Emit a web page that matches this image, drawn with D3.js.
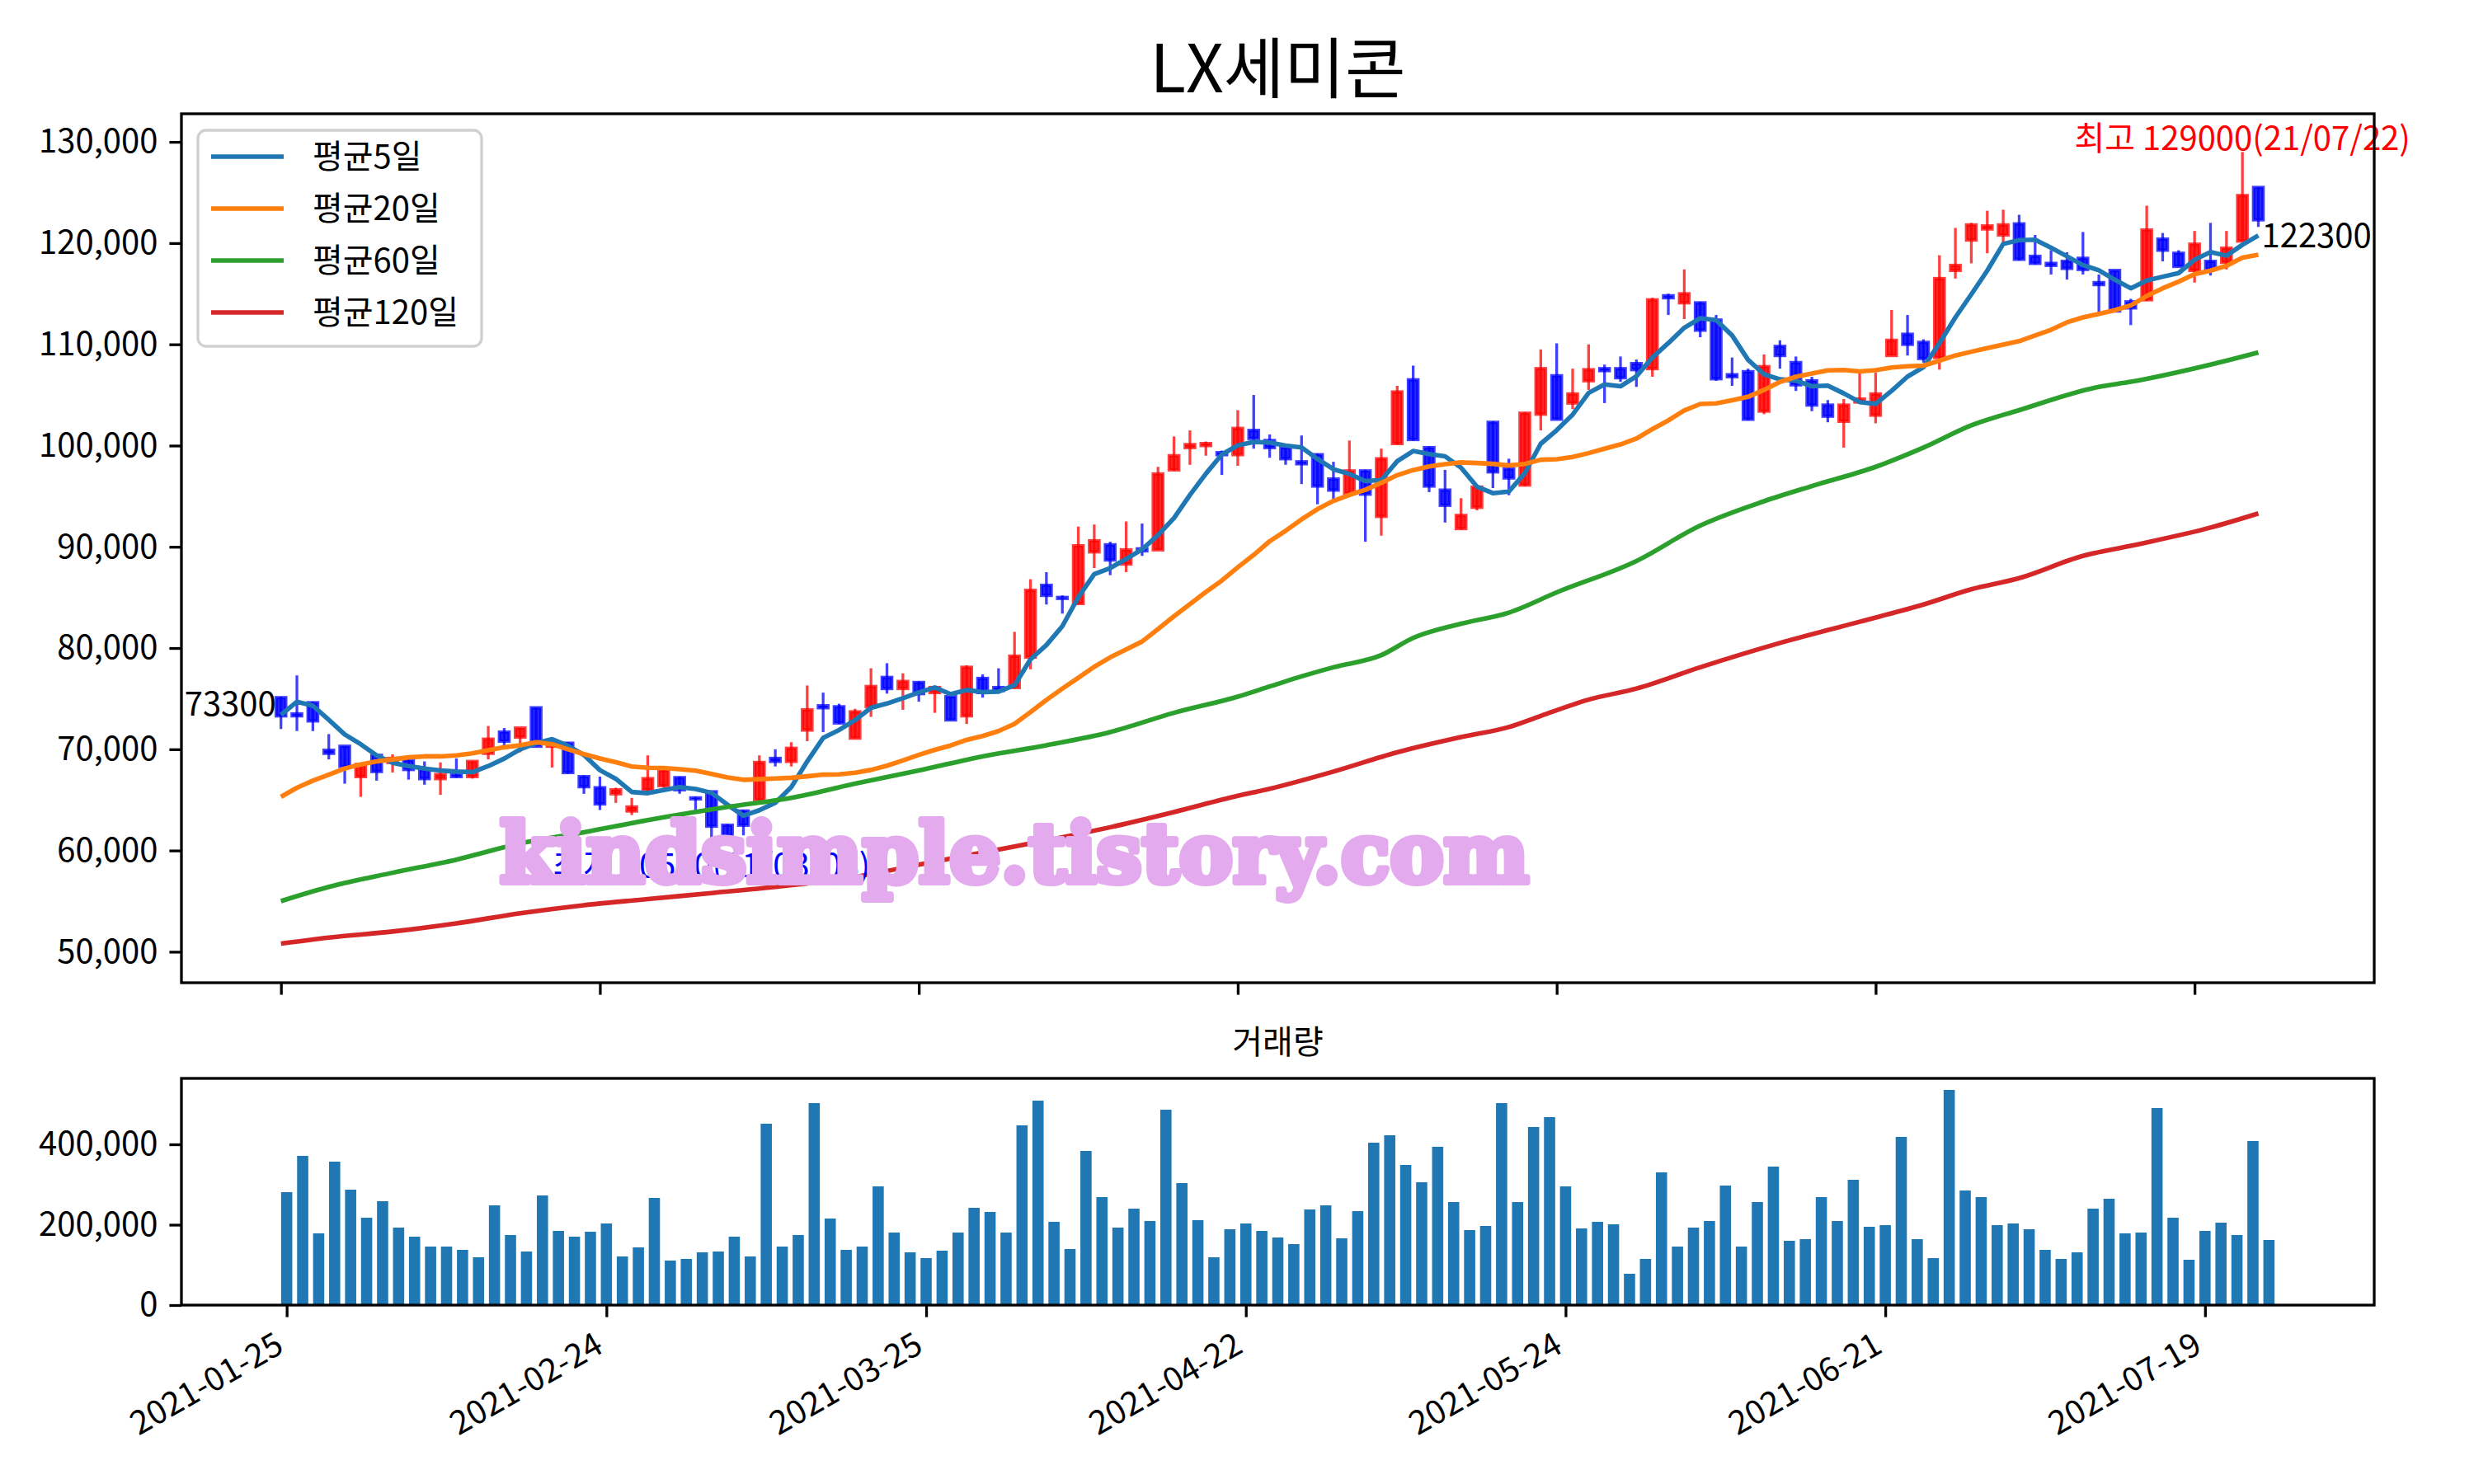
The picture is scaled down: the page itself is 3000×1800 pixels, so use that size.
<!DOCTYPE html>
<html><head><meta charset="utf-8">
<script src="https://cdn.jsdelivr.net/npm/d3@7"></script>
<style>body{margin:0;background:#fff}svg{display:block}</style>
</head><body><svg id="c" width="3000" height="1800" font-family='"Noto Sans CJK KR","Noto Sans",sans-serif'></svg>
<script>
const title = "LX세미콘";
const dates = ["2021-01-25","2021-01-26","2021-01-27","2021-01-28","2021-01-29",
"2021-02-01","2021-02-02","2021-02-03","2021-02-04","2021-02-05","2021-02-08","2021-02-09","2021-02-10",
"2021-02-15","2021-02-16","2021-02-17","2021-02-18","2021-02-19","2021-02-22","2021-02-23","2021-02-24","2021-02-25","2021-02-26",
"2021-03-02","2021-03-03","2021-03-04","2021-03-05","2021-03-08","2021-03-09","2021-03-10","2021-03-11","2021-03-12",
"2021-03-15","2021-03-16","2021-03-17","2021-03-18","2021-03-19","2021-03-22","2021-03-23","2021-03-24","2021-03-25","2021-03-26",
"2021-03-29","2021-03-30","2021-03-31","2021-04-01","2021-04-02","2021-04-05","2021-04-06","2021-04-07","2021-04-08","2021-04-09",
"2021-04-12","2021-04-13","2021-04-14","2021-04-15","2021-04-16","2021-04-19","2021-04-20","2021-04-21","2021-04-22","2021-04-23",
"2021-04-26","2021-04-27","2021-04-28","2021-04-29","2021-04-30","2021-05-03","2021-05-04","2021-05-06","2021-05-07",
"2021-05-10","2021-05-11","2021-05-12","2021-05-13","2021-05-14","2021-05-17","2021-05-18","2021-05-20","2021-05-21",
"2021-05-24","2021-05-25","2021-05-26","2021-05-27","2021-05-28","2021-05-31","2021-06-01","2021-06-02","2021-06-03","2021-06-04",
"2021-06-07","2021-06-08","2021-06-09","2021-06-10","2021-06-11","2021-06-14","2021-06-15","2021-06-16","2021-06-17","2021-06-18",
"2021-06-21","2021-06-22","2021-06-23","2021-06-24","2021-06-25","2021-06-28","2021-06-29","2021-06-30","2021-07-01","2021-07-02",
"2021-07-05","2021-07-06","2021-07-07","2021-07-08","2021-07-09","2021-07-12","2021-07-13","2021-07-14","2021-07-15","2021-07-16",
"2021-07-19","2021-07-20","2021-07-21","2021-07-22","2021-07-23"];
const opens = [75100,73500,74600,69900,70300,67300,69400,68700,68900,68000,67100,67500,67300,69600,71700,71200,74100,70300,70600,67300,
66200,65600,63900,66000,66400,67200,65200,65800,62500,63900,65000,69100,68800,71900,74300,74200,71100,74200,77100,76000,
76600,75600,75200,73300,77000,76100,76100,79100,86200,85000,84400,89500,90200,88300,89800,89700,97600,99800,100000,99300,
99100,101500,100500,99800,98400,99100,96700,95300,97500,93000,100200,106500,99800,95600,91800,93900,102300,97700,96100,103100,
106900,104200,106400,107600,107600,108100,107600,114800,114100,114100,112400,107000,107300,103400,109800,108200,106400,104000,102400,104300,
103000,108900,111000,110200,108700,117300,120300,121400,120800,121900,118700,118000,118200,118500,116100,117300,114200,114400,120400,119000,
117300,118200,118100,120200,125500];
const highs = [75200,77300,74700,71500,70300,68600,69500,69500,69000,68800,68700,69100,68800,72300,72100,72100,74100,70900,70700,67400,
67300,66200,65200,69400,68000,67300,65300,65900,62600,64000,69400,70000,70700,76300,75600,74500,74000,78000,78500,77500,
76700,76200,75300,78300,77400,78000,81600,86800,87500,85200,92000,92200,90500,92500,92300,97900,100900,101500,100400,99500,
103500,105000,101100,99900,101000,99200,98400,100500,97600,99700,105900,107900,99900,97600,94800,96000,102400,98700,103300,109500,
110100,107600,110000,108000,108800,108500,114600,115000,117400,114200,112900,108700,107600,109000,110400,108800,106800,104500,104600,107300,
107200,113400,112900,110500,118800,121500,122000,123200,123300,122800,120800,119300,119100,121100,116900,117300,114500,123700,121000,119300,
121200,122000,121200,129000,125500];
const lows = [72000,71800,71800,69000,66600,65300,66900,67700,67000,66500,65500,67200,67100,69000,70300,69700,70300,68200,67600,65600,
64000,64700,63500,65800,66200,65600,63700,60500,60900,61500,64900,68300,68300,70800,71700,72500,71100,73200,75500,73900,
74700,73600,72900,72500,75100,75600,76000,77900,84300,83400,84300,87900,87200,87500,89100,89700,97500,98100,99000,97100,
98000,99700,98800,98100,96200,94200,94700,95200,90500,91100,100100,100500,95400,92400,91700,93600,95800,95100,96000,101500,
102600,103600,105500,104200,106300,105800,106800,112900,112500,110700,106400,105900,102500,103100,107600,105400,103400,102300,99800,104200,
102200,108900,108900,108200,107500,116500,118000,119000,120000,118300,117900,116900,116400,116900,113200,113200,111900,114300,118200,117700,
116100,116800,117400,120200,121600];
const closes = [73300,73300,72800,69600,68300,68500,67800,69100,68000,67100,67500,67300,68800,71000,70800,72100,70300,70800,67700,66300,
64600,66000,64300,67100,67900,66000,65100,62400,61200,62500,68700,68800,70100,73900,74100,72600,73700,76200,76000,76700,
75500,76100,72900,78100,75600,75800,79200,85700,85200,84900,90100,90600,88700,89700,89600,97200,99000,100100,100200,99100,
101700,100700,99800,98700,98200,96000,95600,97500,95200,98700,105300,100600,96000,94100,93100,95900,97400,96800,103200,107600,
102600,105100,107500,107400,106700,107500,114400,114600,115000,111400,106600,106800,102600,107800,108900,106000,104000,102900,104000,104600,
105100,110400,110000,108600,116500,117800,121800,121700,121800,118400,118000,117800,117500,117400,115900,113300,113600,121300,119300,117700,
119900,117400,119500,124700,122300];
const volumes = [281000,371300,178500,356900,287200,217400,258500,192800,170300,145600,145600,137400,119000,248200,174400,133300,272800,184600,170300,182600,
203100,121000,143600,266700,110800,114900,131300,133300,170300,121000,451300,145600,174400,502600,215400,137400,145600,295400,180500,131300,
116900,135400,180500,242100,231800,180500,447200,508700,207200,139500,383600,268700,192800,240000,209200,486200,303600,211300,119000,188700,
203100,184600,168200,151800,237900,248200,166200,233800,404100,422600,348700,305600,393900,256400,186700,196900,502600,256400,443100,467700,
295400,190800,207200,201000,77900,114900,330300,145600,192800,209200,297400,145600,256400,344600,160000,164100,268700,209200,311800,194900,
199000,418500,164100,116900,535400,285100,268700,199000,203100,188700,137400,114900,131300,240000,264600,178500,180500,490300,217400,112800,
184600,205100,174400,408200,162100];
const ma5 = [73400,74700,74300,72900,71460,70500,69400,68660,68340,68100,67900,67800,67740,68340,69080,70000,70600,71000,70340,69440,
67940,67080,65780,65660,65980,66260,66080,65700,64520,63440,63980,64720,66260,68800,71120,71900,72880,74100,74520,75040,
75620,76100,75440,75860,75640,75700,76320,78880,80300,82160,85020,87300,87900,88800,89740,91160,92840,95120,97220,99120,
100020,100360,100300,100000,99820,98680,97660,97200,96500,96600,98460,99460,99160,98940,97820,95940,95300,95460,97280,100180,
101520,103060,105200,106040,105860,106840,108700,110120,111640,112580,112400,110880,108480,107040,106540,106420,105860,105920,105160,104300,
104120,105400,106820,107740,110120,112660,114940,117280,119920,120300,120340,119540,118700,117820,117320,116380,115540,116300,116680,117040,
118360,119120,118760,119840,120760];
const ma20 = [65300,66200,66900,67500,68100,68500,68800,69000,69200,69300,69300,69400,69600,69900,70200,70400,70700,70500,70000,69520,
69085,68720,68295,68170,68150,68025,67890,67555,67215,66985,67045,67120,67185,67330,67495,67520,67690,67960,68375,68895,
69440,69945,70375,70925,71310,71800,72505,73670,74870,75990,77060,78150,79080,79870,80645,81875,83140,84335,85545,86665,
87975,89205,90550,91580,92710,93720,94540,95130,95630,96320,97080,97580,97945,98165,98340,98275,98195,98030,98180,98605,
98650,98870,99255,99690,100115,100690,101630,102485,103475,104110,104175,104485,104815,105500,106290,106795,107125,107430,107470,107320,
107445,107710,107835,107895,108385,108900,109270,109625,109965,110315,110885,111435,112180,112660,113010,113375,113855,114775,115540,116195,
116935,117285,117760,118565,118855];
const ma60Idx = [0,3,7,11,15,19,23,28,32,36,40,44,48,52,56,60,62,64,66,69,71,74,77,80,85,89,93,96,100,103,106,109,114,116,121,124];
const ma60Val = [55000,56400,57800,59100,60700,61800,63000,64300,65200,66600,67900,69300,70400,71700,73600,75200,76200,77200,78100,79300,81000,82400,83500,85500,88600,92100,94500,96000,97900,99800,102000,103500,105800,106300,108000,109200];
const ma120Idx = [0,3,7,11,15,19,23,27,31,36,40,44,48,52,56,60,62,66,70,74,77,79,82,85,89,94,99,103,106,109,113,116,121,124];
const ma120Val = [50800,51400,52000,52800,53800,54600,55200,55800,56400,57400,58600,59800,61000,62300,63800,65400,66100,67800,69700,71200,72200,73300,74900,76000,78100,80500,82600,84300,85800,86900,89100,90100,91900,93300];
const legendLabels = ["평균5일","평균20일","평균60일","평균120일"];
const maColors = ["#1f77b4","#ff7f0e","#2ca02c","#d62728"];
const priceTicks = [50000,60000,70000,80000,90000,100000,110000,120000,130000];
const volTicks = [0,200000,400000];
const tickLabels = ["2021-01-25","2021-02-24","2021-03-25","2021-04-22","2021-05-24","2021-06-21","2021-07-19"];
const volTitle = "거래량";
const highText = "최고 129000(21/07/22)";
const lowText = "최저 60500(21/03/08)";
const watermark = "kindsimple.tistory.com";

const svg = d3.select("#c");
svg.append("rect").attr("width",3000).attr("height",1800).attr("fill","#fff");
const L=220,R=2879,T1=138,B1=1192,T2=1308,B2=1583;
const x = d3.scaleLinear().domain([0,124]).range([340.7,2738.5]);
const y = d3.scaleLinear().domain([50000,130000]).range([1154.4,172.1]);
const xv = d3.scaleLinear().domain([-6.585,130.585]).range([L,R]);
const yv = d3.scaleLinear().domain([0,400000]).range([B2,1388]);
const n = closes.length;
const idx = d3.range(n);
const tickIdx = tickLabels.map(t=>dates.indexOf(t));
const FS = 40;
const LW = 5.6;
const KFONT = '"Noto Sans CJK KR","Noto Sans",sans-serif';

// title
svg.append("text").attr("x",(L+R)/2).attr("y",112).attr("text-anchor","middle").attr("font-size",80).text(title);

// candles
const gC = svg.append("g");
const bw = 0.6*(x(1)-x(0));
idx.forEach(i=>{
  const up = closes[i] >= opens[i];
  const col = up ? "#ff0000" : "#0000ff";
  gC.append("line").attr("x1",x(i)).attr("x2",x(i)).attr("y1",y(highs[i])).attr("y2",y(lows[i]))
    .attr("stroke",col).attr("stroke-opacity",0.75).attr("stroke-width",3.3);
  const yt = y(Math.max(opens[i],closes[i])), yb = y(Math.min(opens[i],closes[i]));
  gC.append("rect").attr("x",x(i)-bw/2).attr("y",yt).attr("width",bw).attr("height",Math.max(yb-yt,1))
    .attr("fill",col).attr("fill-opacity",0.85).attr("stroke",col).attr("stroke-opacity",0.75).attr("stroke-width",4);
});

// moving averages
const line = d3.line().x(d=>x(d[0])).y(d=>y(d[1]));
const lineS = d3.line().x(d=>x(d[0])).y(d=>y(d[1])).curve(d3.curveMonotoneX);
const series = [
  {d: ma5.map((v,i)=>[i,v]), f: line},
  {d: ma20.map((v,i)=>[i,v]), f: line},
  {d: ma60Idx.map((k,j)=>[k,ma60Val[j]]), f: lineS},
  {d: ma120Idx.map((k,j)=>[k,ma120Val[j]]), f: lineS}];
series.forEach((s,k)=>{
  svg.append("path").attr("d",s.f(s.d)).attr("fill","none").attr("stroke",maColors[k]).attr("stroke-width",LW).attr("stroke-linejoin","round");
});

// annotations
svg.append("text").attr("x",x(0)-6).attr("y",y(closes[0])).attr("text-anchor","end").attr("font-size",FS).text(String(closes[0]));
svg.append("text").attr("x",x(n-1)+4).attr("y",y(closes[n-1])+33).attr("font-size",FS).text(String(closes[n-1]));
const hi = d3.maxIndex(highs), lo = d3.minIndex(lows);
svg.append("text").attr("x",x(hi)).attr("y",y(highs[hi])-2).attr("text-anchor","middle").attr("font-size",FS).attr("fill","#ff0000").text(highText);
svg.append("text").attr("x",x(lo)).attr("y",y(lows[lo])+39).attr("text-anchor","middle").attr("font-size",FS).attr("fill","#0000ff").text(lowText);

// main axes
svg.append("g").attr("transform",`translate(${L},0)`).call(d3.axisLeft(y).tickValues(priceTicks).tickFormat(d3.format(",")).tickSize(14.6).tickPadding(14));
svg.append("g").attr("transform",`translate(0,${B1})`).call(d3.axisBottom(x).tickValues(tickIdx).tickFormat("").tickSize(14.6));
svg.append("rect").attr("x",L).attr("y",T1).attr("width",R-L).attr("height",B1-T1).attr("fill","none").attr("stroke","#000").attr("stroke-width",3.3);

// volume
svg.append("text").attr("x",(L+R)/2).attr("y",1278).attr("text-anchor","middle").attr("font-size",FS).text(volTitle);
const bwv = 0.7*(xv(1)-xv(0));
svg.append("g").selectAll("rect").data(idx).join("rect")
  .attr("x",i=>xv(i)-bwv/2).attr("y",i=>yv(volumes[i])).attr("width",bwv).attr("height",i=>yv(0)-yv(volumes[i])).attr("fill","#1f77b4");
svg.append("g").attr("transform",`translate(${L},0)`).call(d3.axisLeft(yv).tickValues(volTicks).tickFormat(d3.format(",")).tickSize(14.6).tickPadding(14));
const xva = svg.append("g").attr("transform",`translate(0,${B2})`).call(d3.axisBottom(xv).tickValues(tickIdx).tickFormat(i=>dates[i]).tickSize(14.6));
xva.selectAll(".tick text").attr("y",0).attr("dy",0).attr("x",0).attr("text-anchor","end")
  .attr("transform","translate(-2,56) rotate(-30)");
svg.append("rect").attr("x",L).attr("y",T2).attr("width",R-L).attr("height",B2-T2).attr("fill","none").attr("stroke","#000").attr("stroke-width",3.3);

svg.selectAll(".domain").remove();
svg.selectAll("g").attr("font-family",null);
svg.selectAll(".tick line").attr("stroke","#000").attr("stroke-width",3.3);
svg.selectAll(".tick text").attr("font-size",FS).attr("fill","#000").style("font-family",KFONT);

// legend
const lg = svg.append("g");
lg.append("rect").attr("x",240).attr("y",158).attr("width",344).attr("height",262).attr("rx",10)
  .attr("fill","#fff").attr("fill-opacity",0.8).attr("stroke","#d0d0d0").attr("stroke-width",3.3);
legendLabels.forEach((t,k)=>{
  const yy = 190 + k*63;
  lg.append("line").attr("x1",256).attr("x2",344).attr("y1",yy).attr("y2",yy).attr("stroke",maColors[k]).attr("stroke-width",LW);
  lg.append("text").attr("x",379).attr("y",yy+14).attr("font-size",FS).text(t);
});

// watermark
svg.append("text").attr("x",606).attr("y",1070).attr("font-size",100).attr("font-weight","bold")
  .style("font-family",'"DejaVu Serif","Liberation Serif",serif').attr("fill","#e4aaee")
  .attr("stroke","#e4aaee").attr("stroke-width",8).attr("stroke-linejoin","round")
  .attr("textLength",1248).attr("lengthAdjust","spacingAndGlyphs").text(watermark);
</script></body></html>
